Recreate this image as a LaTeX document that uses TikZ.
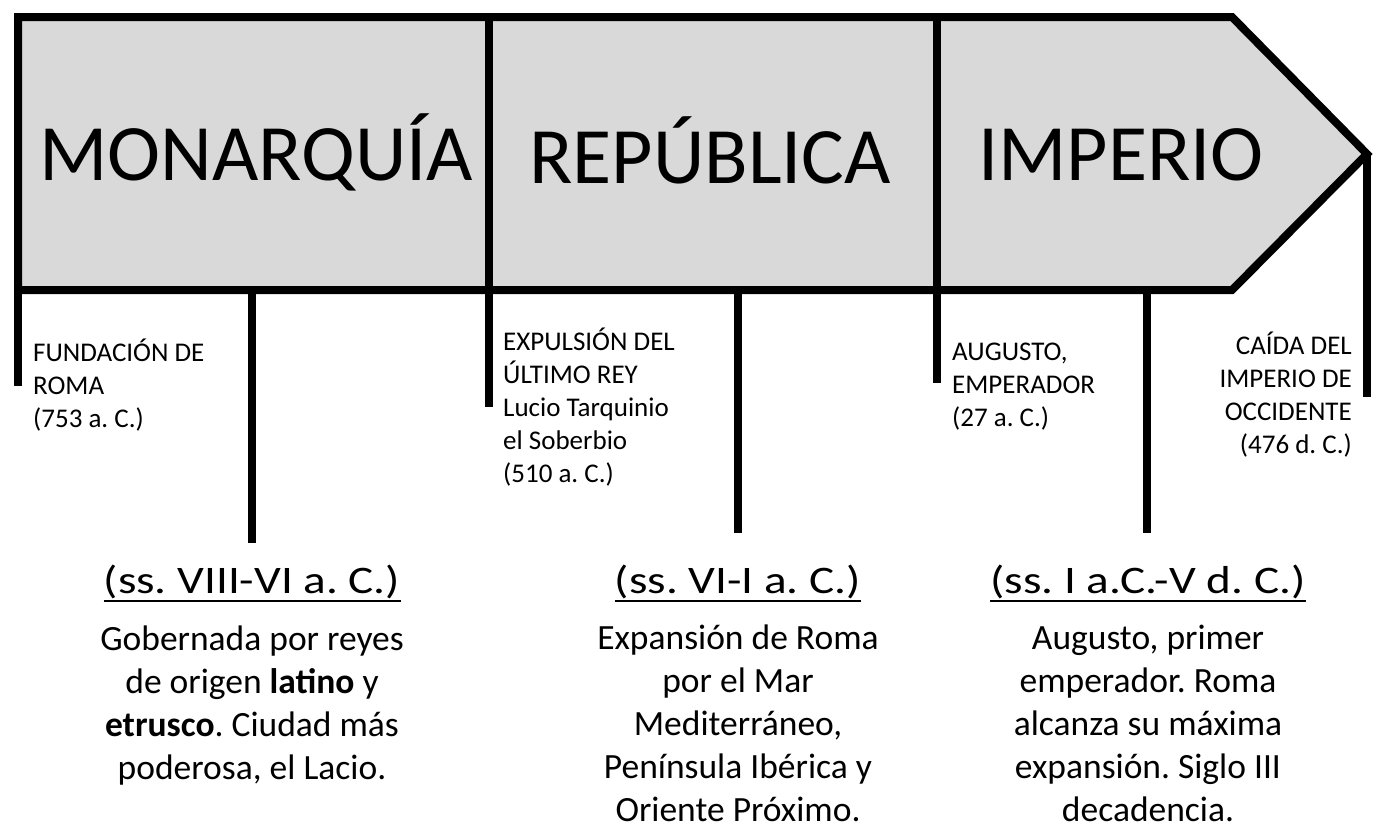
\documentclass[tikz,border=0pt]{standalone}
\usepackage{fontspec}
\setmainfont{Carlito}
\usetikzlibrary{positioning}
\definecolor{gris}{RGB}{217,217,217}
\frenchspacing
\tikzset{
	linea/.style = {line width=8pt},
	subrayado/.style = {line width=2.5pt},
	era/.style = {font=\fontsize{80}{96}\selectfont, anchor=base, inner sep=0pt},
	hito/.style = {font=\fontsize{27}{33}\selectfont, align=left, anchor=base west, inner sep=0pt},
	hitoder/.style = {hito, align=right, anchor=base east},
	siglo/.style = {font=\fontsize{39}{47}\selectfont\addfontfeature{FakeStretch=1.21}, anchor=base, inner sep=0pt},
	resumen/.style = {font=\fontsize{35.5}{43}\selectfont, align=center, anchor=base, inner sep=0pt}
}

\begin{document}
\begin{tikzpicture}[x=1pt,y=-1pt]
    \useasboundingbox (0,0) rectangle (1380,835);

    % flecha del tiempo
    \draw [linea, fill=gris, line join=miter] (18,17) -- (1232,17) -- (1367,154) -- (1232,290) -- (18,290) -- cycle;

    \coordinate (inicio) at (18,290);
    \coordinate (finicio) at (18,386);
    \coordinate (arriba1) at (489,17);
    \coordinate (abajo1) at (489,407);
    \coordinate (arriba2) at (937,17);
    \coordinate (abajo2) at (937,383);
    \coordinate (punta) at (1367,154);
    \coordinate (fpunta) at (1367,397);

    \coordinate (marca1) at (252,290);
    \coordinate (fmarca1) at (252,543);
    \coordinate (marca2) at (738,290);
    \coordinate (fmarca2) at (738,533);
    \coordinate (marca3) at (1147,290);
    \coordinate (fmarca3) at (1147,533);

    \draw [linea] (inicio) -- (finicio);
    \draw [linea] (arriba1) -- (abajo1);
    \draw [linea] (arriba2) -- (abajo2);
    \draw [linea] (punta) -- (fpunta);
    \draw [linea] (marca1) -- (fmarca1);
    \draw [linea] (marca2) -- (fmarca2);
    \draw [linea] (marca3) -- (fmarca3);

    \node [era] (monarquia) at (256,180) {MONARQUÍA};
    \node [era] (republica) at (710,183) {REPÚBLICA};
    \node [era] (imperio) at (1121,180) {IMPERIO};

    % el ancla base cae en la ultima linea
    \node [hito] (fundacion) at (33,427) {FUNDACIÓN DE\\ROMA\\(753 a. C.)};
    \node [hito] (expulsion) at (503,482) {EXPULSIÓN DEL\\ÚLTIMO REY\\Lucio Tarquinio\\el Soberbio\\(510 a. C.)};
    \node [hito] (augusto) at (952,426) {AUGUSTO,\\EMPERADOR\\(27 a. C.)};
    \node [hitoder] (caida) at (1352,453) {CAÍDA DEL\\IMPERIO DE\\OCCIDENTE\\(476 d. C.)};

    \node [siglo] (siglo1) at (252,593) {(ss. VIII-VI a. C.)};
    \node [siglo] (siglo2) at (738,593) {(ss. VI-I a. C.)};
    \node [siglo] (siglo3) at (1148,593) {(ss. I a.C.-V d. C.)};
    \draw [subrayado] ([yshift=-8pt]siglo1.base west) -- ([yshift=-8pt]siglo1.base east);
    \draw [subrayado] ([yshift=-8pt]siglo2.base west) -- ([yshift=-8pt]siglo2.base east);
    \draw [subrayado] ([yshift=-8pt]siglo3.base west) -- ([yshift=-8pt]siglo3.base east);

    \node [resumen] (texto1) at (252,779) {Gobernada por reyes\\de origen \textbf{latino} y\\\textbf{etrusco}. Ciudad más\\poderosa, el Lacio.};
    \node [resumen] (texto2) at (738,821) {Expansión de Roma\\por el Mar\\Mediterráneo,\\Península Ibérica y\\Oriente Próximo.};
    \node [resumen] (texto3) at (1148,821) {Augusto, primer\\emperador. Roma\\alcanza su máxima\\expansión. Siglo III\\decadencia.};
\end{tikzpicture}
\end{document}
